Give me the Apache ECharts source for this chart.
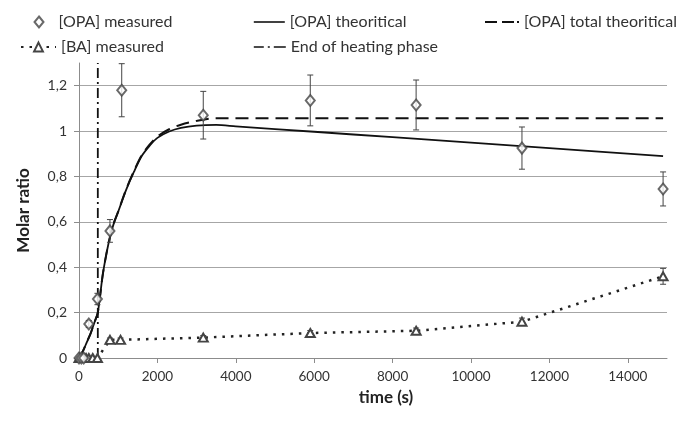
<!DOCTYPE html>
<html>
<head>
<meta charset="utf-8">
<script src="https://cdn.jsdelivr.net/npm/echarts@6/dist/echarts.min.js"></script>
<style>
  html, body { margin: 0; padding: 0; background: #fff; }
  #chart { width: 678px; height: 421px; }
</style>
</head>
<body>
<div id="chart"></div>
<script>
// Measured OPA molar ratio (time in s, value, error bar half-width)
const opaTime  = [0, 60, 120, 250, 470, 790, 1090, 3170, 5900, 8600, 11300, 14900];
const opaValue = [0, 0, 0, 0.15, 0.26, 0.56, 1.18, 1.07, 1.135, 1.115, 0.925, 0.745];
const opaError = [0, 0, 0, 0.015, 0.025, 0.05, 0.117, 0.105, 0.112, 0.11, 0.093, 0.075];

// Measured BA molar ratio
const baTime  = [0, 60, 120, 180, 250, 350, 470, 790, 1060, 3170, 5900, 8600, 11300, 14900];
const baValue = [0, 0, 0, 0, 0, 0, 0, 0.08, 0.08, 0.09, 0.11, 0.12, 0.16, 0.36];
const baError = [0, 0, 0, 0, 0, 0, 0, 0.008, 0.008, 0.009, 0.011, 0.012, 0.016, 0.035];

// Model curves
const thTime  = [0, 100, 200, 300, 400, 480, 600, 700, 800, 900, 1000, 1200, 1400, 1600, 1800, 2000, 2300, 2600, 3000, 3500, 4000, 6000, 8000, 10000, 12000, 14900];
const thValue = [0, 0.03, 0.07, 0.11, 0.16, 0.20, 0.36, 0.46, 0.54, 0.60, 0.645, 0.74, 0.82, 0.89, 0.935, 0.97, 0.998, 1.014, 1.024, 1.027, 1.021, 0.997, 0.973, 0.949, 0.925, 0.89];

const totTime  = [0, 100, 200, 300, 400, 480, 600, 700, 800, 900, 1000, 1200, 1400, 1600, 1800, 2000, 2300, 2600, 3000, 3500, 14900];
const totValue = [0, 0.03, 0.07, 0.11, 0.16, 0.20, 0.36, 0.46, 0.54, 0.60, 0.645, 0.742, 0.823, 0.893, 0.94, 0.976, 1.008, 1.028, 1.045, 1.057, 1.057];

// End of heating phase
const heatEnd = 480;
const heatSpan = [0, 1.3];

// Axis ticks
const xTicks = { min: 0, max: 15000, interval: 2000 };
const yTicks = { min: 0, max: 1.3, interval: 0.2 };

const FONT = 'Lato';
const pairs = (xs, ys) => xs.map((x, i) => [x, ys[i]]);
const errRows = (xs, ys, es) => xs.map((x, i) => [x, ys[i] - es[i], ys[i] + es[i]]).filter((r, i) => es[i] > 0);

function errorBar(params, api) {
  const x = api.value(0);
  const lo = api.coord([x, api.value(1)]);
  const hi = api.coord([x, api.value(2)]);
  const cap = 3;
  const style = { stroke: '#444', lineWidth: 1, fill: null };
  return {
    type: 'group',
    children: [
      { type: 'line', shape: { x1: lo[0], y1: lo[1], x2: hi[0], y2: hi[1] }, style },
      { type: 'line', shape: { x1: lo[0] - cap, y1: lo[1], x2: lo[0] + cap, y2: lo[1] }, style },
      { type: 'line', shape: { x1: hi[0] - cap, y1: hi[1], x2: hi[0] + cap, y2: hi[1] }, style }
    ]
  };
}

const legendText = { fontFamily: FONT, fontSize: 16, color: '#333' };
function legendAt(name, left, top, width, extra) {
  return Object.assign({
    data: [name], left, top, padding: 0,
    itemWidth: width, itemHeight: 11,
    textStyle: legendText, selectedMode: false
  }, extra || {});
}
// line-only legend keys: the series symbol is hidden, the dash pattern is given here
const lineKey = (dash, width) => ({
  itemStyle: { opacity: 0 },
  lineStyle: { type: dash, width: width, color: '#111', opacity: 1 }
});

const chart = echarts.init(document.getElementById('chart'), null, { renderer: 'canvas' });
chart.setOption({
  animation: false,
  backgroundColor: '#fff',
  legend: [
    legendAt('[OPA] measured', 33.5, 14, 9, {
      textStyle: Object.assign({}, legendText, { padding: [0, 0, 0, 10] })
    }),
    legendAt('[OPA] theoritical', 253, 14, 31, lineKey('solid', 1.6)),
    legendAt('[OPA] total theoritical', 484, 14, 34, lineKey([12, 5, 12, 3, 2, 100], 2)),
    legendAt('[BA] measured', 20, 39, 35),
    legendAt('End of heating phase', 253, 39, 32, lineKey([10, 4, 2, 4, 12, 100], 1.6))
  ],
  grid: { left: 79, right: 11, top: 63, bottom: 63, containLabel: false },
  xAxis: {
    type: 'value', min: xTicks.min, max: xTicks.max, interval: xTicks.interval,
    name: 'time (s)', nameLocation: 'middle', nameGap: 31,
    nameTextStyle: { fontFamily: FONT, fontSize: 17, fontWeight: 'bold', color: '#222', padding: [0, 0, 0, 26] },
    axisLine: { lineStyle: { color: '#8c8c8c', width: 1 } },
    axisTick: { show: true, length: 5, lineStyle: { color: '#8c8c8c' } },
    axisLabel: {
      showMaxLabel: false, fontFamily: FONT, fontSize: 13.5, color: '#333', margin: 12,
      formatter: v => String(v)
    },
    splitLine: { show: false }
  },
  yAxis: {
    type: 'value', min: yTicks.min, max: yTicks.max, interval: yTicks.interval,
    name: 'Molar ratio', nameLocation: 'middle', nameGap: 47, nameRotate: 90,
    nameTextStyle: { fontFamily: FONT, fontSize: 17, fontWeight: 'bold', color: '#222' },
    axisLine: { show: true, lineStyle: { color: '#8c8c8c', width: 1 } },
    axisTick: { show: true, length: 5, lineStyle: { color: '#8c8c8c' } },
    axisLabel: {
      showMaxLabel: false, fontFamily: FONT, fontSize: 14, color: '#333', margin: 12,
      formatter: v => String(Math.round(v * 10) / 10).replace('.', ',')
    },
    splitLine: { show: true, showMaxLine: false, lineStyle: { color: '#a6a6a6', width: 1 } }
  },
  series: [
    {
      name: '[OPA] total theoritical', type: 'line', data: pairs(totTime, totValue),
      smooth: 0.3, symbol: 'none', z: 3,
      lineStyle: { color: '#111', width: 2, type: [13, 7] },
      itemStyle: { color: '#111' }
    },
    {
      name: '[OPA] theoritical', type: 'line', data: pairs(thTime, thValue),
      smooth: 0.3, symbol: 'none', z: 4,
      lineStyle: { color: '#111', width: 1.8 },
      itemStyle: { color: '#111' }
    },
    {
      name: 'End of heating phase', type: 'line',
      data: heatSpan.map(v => [heatEnd, v]), symbol: 'none', z: 2,
      lineStyle: { color: '#111', width: 1.8, type: [10, 4, 2, 4] },
      itemStyle: { color: '#111' }
    },
    {
      name: '[BA] measured', type: 'line', data: pairs(baTime, baValue),
      symbol: 'emptyTriangle', symbolSize: [9, 8], showAllSymbol: true, z: 5,
      lineStyle: { color: '#222', width: 2.5, type: [2.5, 6] },
      itemStyle: { color: '#444', borderWidth: 1 }
    },
    {
      name: '[OPA] measured', type: 'scatter', data: pairs(opaTime, opaValue),
      symbol: 'emptyDiamond', symbolSize: [9, 11], z: 6,
      itemStyle: { color: '#444', borderWidth: 1 }
    },
    {
      type: 'custom', data: errRows(opaTime, opaValue, opaError),
      renderItem: errorBar, z: 5, silent: true, encode: { x: 0, y: [1, 2] }
    },
    {
      type: 'custom', data: errRows(baTime, baValue, baError),
      renderItem: errorBar, z: 5, silent: true, encode: { x: 0, y: [1, 2] }
    }
  ]
});
</script>
</body>
</html>
